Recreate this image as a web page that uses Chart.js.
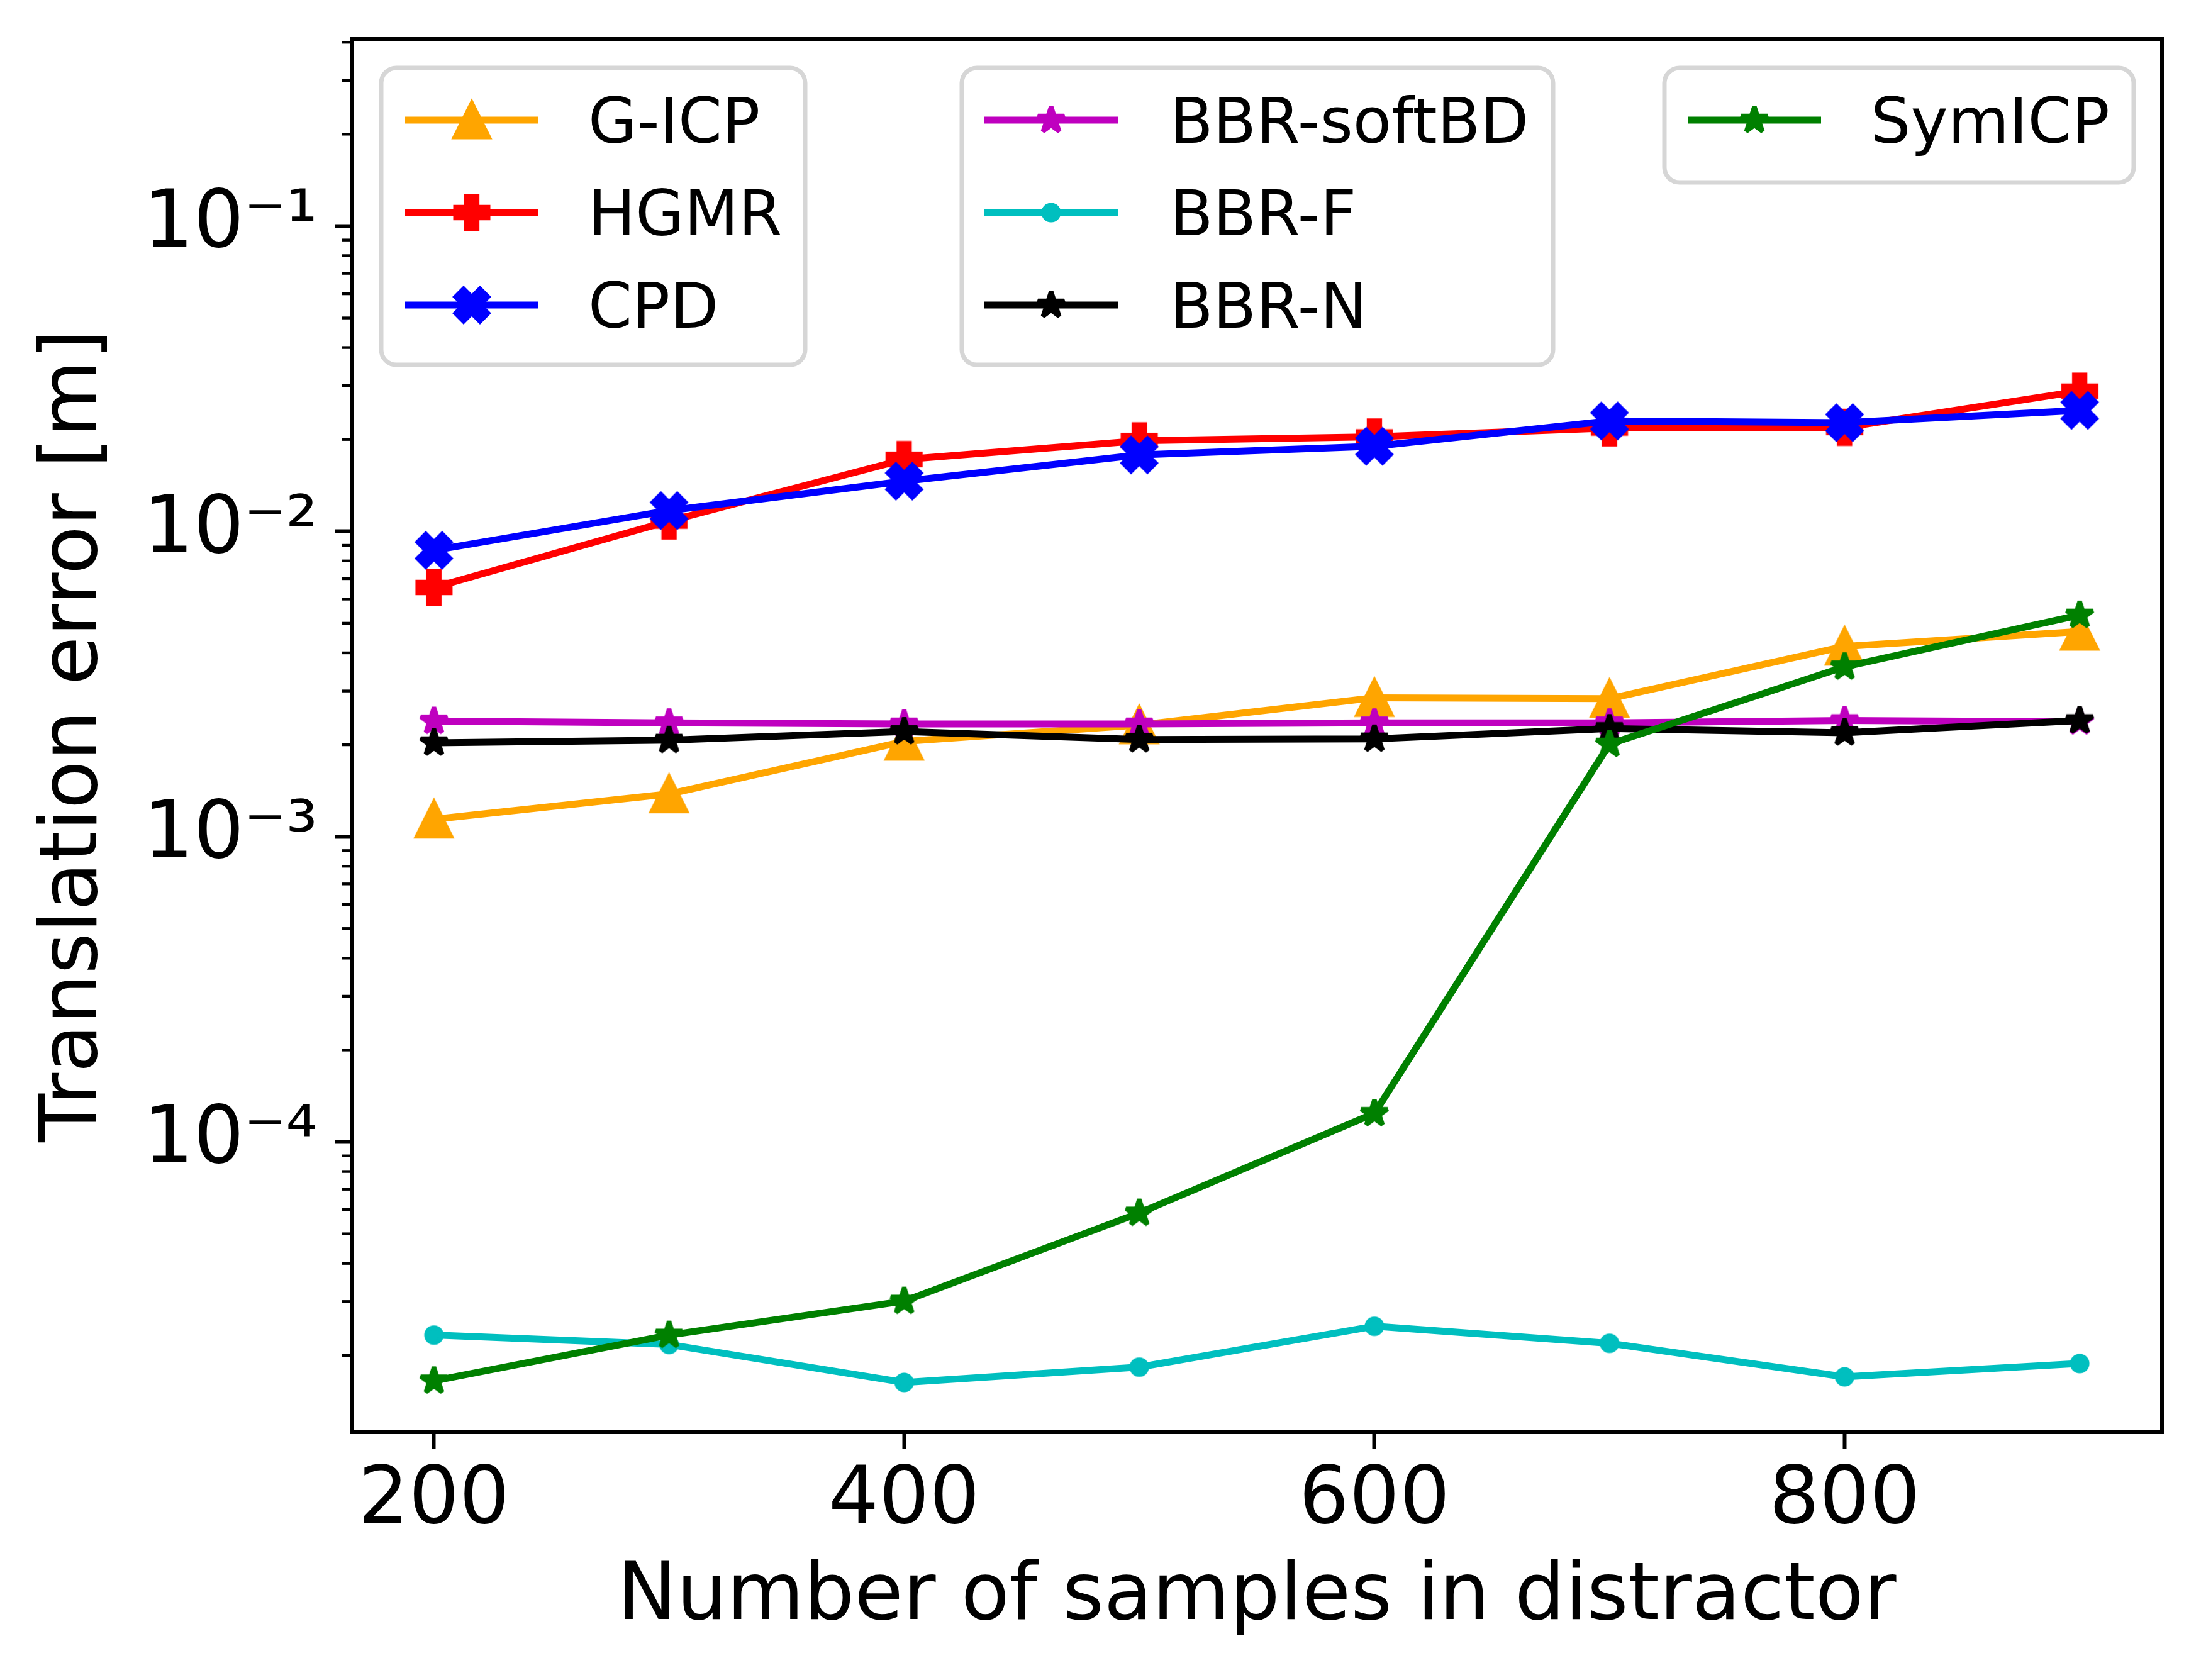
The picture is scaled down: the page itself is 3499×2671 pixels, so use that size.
<!DOCTYPE html>
<html>
<head>
<meta charset="utf-8">
<script src="https://cdn.jsdelivr.net/npm/chart.js@4.4.0/dist/chart.umd.min.js"></script>
<style>
  html, body { margin: 0; padding: 0; background: #ffffff; }
  #wrap { width: 3499px; height: 2671px; }
</style>
</head>
<body>
<div id="wrap"><canvas id="chart" width="3499" height="2671"></canvas></div>
<script>
// x values and one array per method (translation error in metres)
const samples = [200, 300, 400, 500, 600, 700, 800, 900];
const gicp   = [1.14e-3, 1.38e-3, 2.05e-3, 2.32e-3, 2.85e-3, 2.83e-3, 4.20e-3, 4.70e-3];
const hgmr   = [6.55e-3, 1.08e-2, 1.72e-2, 1.98e-2, 2.04e-2, 2.18e-2, 2.19e-2, 2.88e-2];
const cpd    = [8.67e-3, 1.17e-2, 1.46e-2, 1.78e-2, 1.90e-2, 2.30e-2, 2.27e-2, 2.49e-2];
const softbd = [2.39e-3, 2.36e-3, 2.34e-3, 2.34e-3, 2.36e-3, 2.36e-3, 2.40e-3, 2.38e-3];
const bbrF   = [2.33e-5, 2.17e-5, 1.63e-5, 1.83e-5, 2.49e-5, 2.19e-5, 1.70e-5, 1.88e-5];
const bbrN   = [2.03e-3, 2.07e-3, 2.21e-3, 2.08e-3, 2.09e-3, 2.26e-3, 2.19e-3, 2.40e-3];
const symicp = [1.65e-5, 2.33e-5, 3.01e-5, 5.85e-5, 1.24e-4, 2.01e-3, 3.60e-3, 5.32e-3];

const xTicks = [200, 400, 600, 800];
const yTicks = [1e-4, 1e-3, 1e-2, 1e-1];
const yTickLabels = ["10\u207B\u2074", "10\u207B\u00B3", "10\u207B\u00B2", "10\u207B\u00B9"];

const FONT = "'DejaVu Sans', sans-serif";

// matplotlib-like filled markers, drawn once onto small canvases
function makeMarker(shape, color) {
  const size = 100;
  const c = document.createElement("canvas");
  c.width = size; c.height = size;
  const g = c.getContext("2d");
  g.translate(size / 2, size / 2);
  g.fillStyle = color;
  g.strokeStyle = color;
  g.lineWidth = 7;
  g.lineJoin = "miter";
  g.beginPath();
  let pts = null, unit = 1;
  if (shape === "triangle") {
    const h = 27;
    pts = [[0, -h], [-h, h], [h, h]];
  } else if (shape === "plus") {
    unit = 26 / 3;
    pts = [[-1,-3],[1,-3],[1,-1],[3,-1],[3,1],[1,1],[1,3],[-1,3],[-1,1],[-3,1],[-3,-1],[-1,-1]];
  } else if (shape === "x") {
    unit = 13;
    pts = [[-1,-2],[0,-1],[1,-2],[2,-1],[1,0],[2,1],[1,2],[0,1],[-1,2],[-2,1],[-1,0],[-2,-1]];
  } else if (shape === "star") {
    g.lineJoin = "bevel";
    pts = [];
    const R = 22, r = R * 0.381966;
    for (let i = 0; i < 10; i++) {
      const a = -Math.PI / 2 + i * Math.PI / 5;
      const rr = i % 2 === 0 ? R : r;
      pts.push([Math.cos(a) * rr, Math.sin(a) * rr]);
    }
  }
  if (pts) {
    pts.forEach((p, i) => {
      if (i === 0) g.moveTo(p[0] * unit, p[1] * unit);
      else g.lineTo(p[0] * unit, p[1] * unit);
    });
    g.closePath();
  } else {
    g.arc(0, 0, 12, 0, Math.PI * 2);
  }
  g.fill();
  g.stroke();
  return c;
}

const methods = [
  { label: "G-ICP",      values: gicp,   color: "#ffa500", shape: "triangle", group: 0 },
  { label: "HGMR",       values: hgmr,   color: "#ff0000", shape: "plus",     group: 0 },
  { label: "CPD",        values: cpd,    color: "#0000ff", shape: "x",        group: 0 },
  { label: "BBR-softBD", values: softbd, color: "#bf00bf", shape: "star",     group: 1 },
  { label: "BBR-F",      values: bbrF,   color: "#00bfbf", shape: "dot",      group: 1 },
  { label: "BBR-N",      values: bbrN,   color: "#000000", shape: "star",     group: 1 },
  { label: "SymICP",     values: symicp, color: "#008000", shape: "star",     group: 2 }
];

const datasets = methods.map(function(m, i) {
  return {
    label: m.label,
    data: samples.map((x, j) => ({ x: x, y: m.values[j] })),
    borderColor: m.color,
    backgroundColor: m.color,
    borderWidth: 11,
    borderJoinStyle: "round",
    pointStyle: makeMarker(m.shape, m.color),
    pointRadius: 20,
    pointHoverRadius: 20,
    tension: 0,
    fill: false,
    order: methods.length - i
  };
});

// frame, minor log ticks and the three matplotlib-style legend boxes
const decorPlugin = {
  id: "decor",
  afterDatasetsDraw(chart) {
    const ctx = chart.ctx;
    const a = chart.chartArea;
    const ys = chart.scales.y;
    ctx.save();

    // minor ticks on the log axis
    ctx.strokeStyle = "#000";
    ctx.lineWidth = 4.4;
    for (let k = -6; k <= 0; k++) {
      for (let m = 2; m <= 9; m++) {
        const v = m * Math.pow(10, k);
        if (v < ys.min || v > ys.max) continue;
        const py = ys.getPixelForValue(v);
        ctx.beginPath();
        ctx.moveTo(a.left - 15, py);
        ctx.lineTo(a.left, py);
        ctx.stroke();
      }
    }

    // axes frame
    ctx.lineWidth = 6;
    ctx.strokeRect(a.left, a.top, a.right - a.left, a.bottom - a.top);

    // legends
    const boxes = [
      { x: 606,  y: 108, w: 674, h: 472, lineX: 644,  textX: 935 },
      { x: 1529, y: 108, w: 940, h: 472, lineX: 1565, textX: 1860 },
      { x: 2646, y: 108, w: 746, h: 182, lineX: 2683, textX: 2974 }
    ];
    const rowY = [191, 338, 485];
    boxes.forEach(function(b, gi) {
      const r = 24;
      ctx.beginPath();
      ctx.moveTo(b.x + r, b.y);
      ctx.arcTo(b.x + b.w, b.y, b.x + b.w, b.y + b.h, r);
      ctx.arcTo(b.x + b.w, b.y + b.h, b.x, b.y + b.h, r);
      ctx.arcTo(b.x, b.y + b.h, b.x, b.y, r);
      ctx.arcTo(b.x, b.y, b.x + b.w, b.y, r);
      ctx.closePath();
      ctx.fillStyle = "rgba(255,255,255,0.8)";
      ctx.fill();
      ctx.strokeStyle = "#d6d6d6";
      ctx.lineWidth = 7;
      ctx.stroke();

      let row = 0;
      methods.forEach(function(m, i) {
        if (m.group !== gi) return;
        const y = rowY[row++];
        const ds = chart.data.datasets[i];
        ctx.strokeStyle = m.color;
        ctx.lineWidth = 11;
        ctx.lineCap = "butt";
        ctx.beginPath();
        ctx.moveTo(b.lineX, y);
        ctx.lineTo(b.lineX + 212, y);
        ctx.stroke();
        const mk = ds.pointStyle;
        ctx.drawImage(mk, b.lineX + 106 - mk.width / 2, y - mk.height / 2);
        ctx.fillStyle = "#000";
        ctx.font = "100px " + FONT;
        ctx.textBaseline = "alphabetic";
        ctx.textAlign = "left";
        ctx.fillText(m.label, b.textX, y + 36);
      });
    });
    ctx.restore();
  }
};

const chart = new Chart(document.getElementById("chart").getContext("2d"), {
  type: "line",
  data: { datasets: datasets },
  options: {
    responsive: false,
    animation: false,
    devicePixelRatio: 1,
    layout: { padding: { left: 0, top: 62, right: 62, bottom: 0 } },
    plugins: { legend: { display: false }, tooltip: { enabled: false } },
    scales: {
      x: {
        type: "linear",
        min: 165,
        max: 935,
        afterBuildTicks: function(scale) {
          scale.ticks = xTicks.map(v => ({ value: v }));
        },
        afterFit: function(scale) {
          scale.height = 394;
          scale.paddingLeft = 0;
          scale.paddingRight = 0;
        },
        border: { display: false },
        grid: { display: true, drawOnChartArea: false, drawTicks: true, tickLength: 26, tickWidth: 6, tickColor: "#000" },
        ticks: { color: "#000", font: { family: FONT, size: 126 }, padding: 10, maxRotation: 0 },
        title: { display: true, text: "Number of samples in distractor", color: "#000",
                 font: { family: FONT, size: 126 }, padding: { top: 0, bottom: 54 } }
      },
      y: {
        type: "logarithmic",
        min: 1.12e-5,
        max: 0.41,
        afterBuildTicks: function(scale) {
          scale.ticks = yTicks.map(v => ({ value: v, major: true }));
        },
        afterFit: function(scale) {
          scale.width = 559;
          scale.paddingTop = 0;
          scale.paddingBottom = 0;
        },
        border: { display: false },
        grid: { display: true, drawOnChartArea: false, drawTicks: true, tickLength: 26, tickWidth: 6, tickColor: "#000" },
        ticks: {
          color: "#000",
          font: { family: FONT, size: 126 },
          padding: 28,
          callback: function(value, index) { return yTickLabels[index]; }
        },
        title: { display: true, text: "Translation error [m]", color: "#000",
                 font: { family: FONT, size: 126 }, padding: { top: 45, bottom: 0 } }
      }
    }
  },
  plugins: [decorPlugin]
});
</script>
</body>
</html>
